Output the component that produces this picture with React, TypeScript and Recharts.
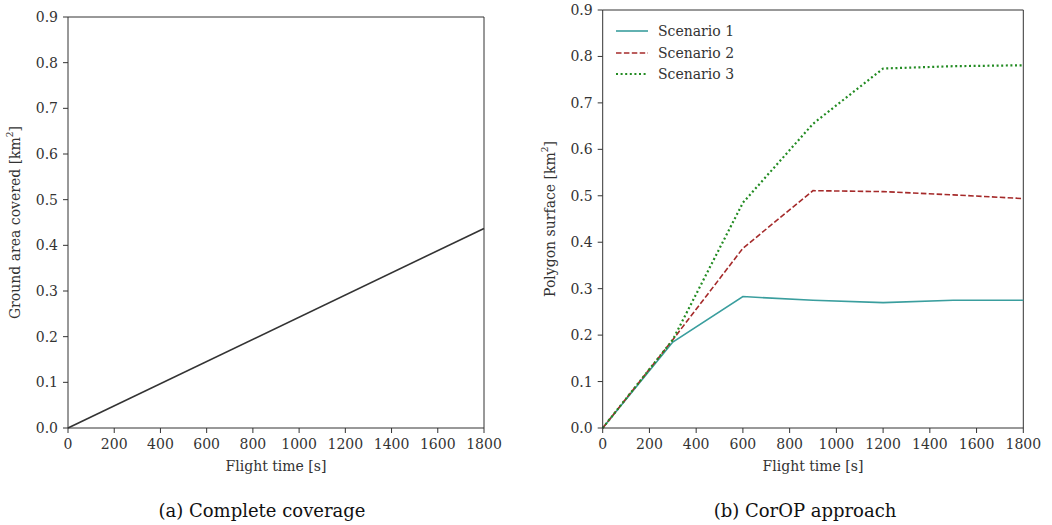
import { LineChart, Line, XAxis, YAxis, ReferenceLine, Legend } from "recharts";

const timeTicks = [0, 200, 400, 600, 800, 1000, 1200, 1400, 1600, 1800];
const areaTicks = [0, 0.1, 0.2, 0.3, 0.4, 0.5, 0.6, 0.7, 0.8, 0.9];

// (a) complete coverage
const coverageTime = [0, 1800];
const coverageArea = [0, 0.437];

// (b) CorOP approach
const scenarioTime = [0, 300, 600, 900, 1200, 1500, 1800];
const scenario1 = [0, 0.185, 0.283, 0.275, 0.27, 0.275, 0.275];
const scenario2 = [0, 0.19, 0.387, 0.511, 0.509, 0.502, 0.494];
const scenario3 = [0, 0.19, 0.485, 0.655, 0.774, 0.779, 0.781];
const scenarioNames = ["Scenario 1", "Scenario 2", "Scenario 3"];

const serif = "'DejaVu Serif', serif";
const ink = "#333";
const tickStyle = { fill: ink, fontSize: 14, fontFamily: serif };

const coverageData = coverageTime.map((t, i) => ({ t, area: coverageArea[i] }));
const scenarioData = scenarioTime.map((t, i) => ({
  t,
  s1: scenario1[i],
  s2: scenario2[i],
  s3: scenario3[i],
}));

const styles = [
  { key: "s1", color: "#3a9e9e", dash: undefined, width: 1.6 },
  { key: "s2", color: "#a52a2a", dash: "5.5 2.4", width: 1.6 },
  { key: "s3", color: "#228b22", dash: "2 2.6", width: 2.2 },
];

function yLabel(text: string) {
  return (props: any) => {
    const { viewBox } = props;
    const x = viewBox.x - 3;
    const y = viewBox.y + viewBox.height / 2;
    return (
      <text
        x={x}
        y={y}
        transform={`rotate(-90 ${x} ${y})`}
        textAnchor="middle"
        dominantBaseline="central"
        fill={ink}
        fontSize={14}
        fontFamily={serif}
      >
        {text} [km<tspan baselineShift="super" fontSize={9}>2</tspan>]
      </text>
    );
  };
}

function xLabel(props: any) {
  const { viewBox } = props;
  return (
    <text
      x={viewBox.x + viewBox.width / 2}
      y={viewBox.y + 38}
      textAnchor="middle"
      dominantBaseline="central"
      fill={ink}
      fontSize={14}
      fontFamily={serif}
    >
      Flight time [s]
    </text>
  );
}

function Axes({ label }: { label: string }) {
  return [
    <XAxis
      key="x"
      dataKey="t"
      type="number"
      domain={[0, 1800]}
      ticks={timeTicks}
      tick={tickStyle}
      tickSize={5}
      tickMargin={6}
      height={42}
      stroke={ink}
      interval={0}
      label={xLabel}
    />,
    <YAxis
      key="y"
      type="number"
      domain={[0, 0.9]}
      ticks={areaTicks}
      tickFormatter={(v: number) => v.toFixed(1)}
      tick={tickStyle}
      tickSize={5}
      tickMargin={5}
      width={50}
      stroke={ink}
      interval={0}
      label={yLabel(label)}
    />,
    <ReferenceLine key="top" y={0.9} stroke={ink} />,
    <ReferenceLine key="right" x={1800} stroke={ink} />,
  ];
}

function LegendBox(props: any) {
  const { payload } = props;
  return (
    <div style={{ fontFamily: serif, fontSize: 14, color: ink }}>
      {payload.map((p: any, i: number) => {
        const st = styles.find((s) => s.key === p.dataKey) ?? styles[i];
        return (
          <div key={i} style={{ display: "flex", alignItems: "center", height: 21.7 }}>
            <svg width={32} height={10} style={{ marginRight: 10 }}>
              <line
                x1={0}
                y1={5}
                x2={32}
                y2={5}
                stroke={st.color}
                strokeWidth={st.width}
                strokeDasharray={st.dash}
              />
            </svg>
            <span>{p.value}</span>
          </div>
        );
      })}
    </div>
  );
}

const caption = {
  position: "absolute" as const,
  top: 500,
  fontFamily: serif,
  fontSize: 18,
  color: "#111",
  transform: "translateX(-50%)",
  whiteSpace: "nowrap" as const,
};

export default function App() {
  return (
    <div style={{ position: "absolute", left: 0, top: 0, width: 1052, height: 525, background: "#fff" }}>
      <div style={{ position: "absolute", left: 0, top: 0 }}>
        <LineChart width={520} height={490} data={coverageData} margin={{ top: 17, right: 36, bottom: 20, left: 18 }}>
          {Axes({ label: "Ground area covered" })}
          <Line dataKey="area" stroke={ink} strokeWidth={1.6} dot={false} isAnimationActive={false} />
        </LineChart>
      </div>
      <div style={{ position: "absolute", left: 534, top: 0 }}>
        <LineChart width={518} height={490} data={scenarioData} margin={{ top: 10, right: 28.7, bottom: 20, left: 18.7 }}>
          {Axes({ label: "Polygon surface" })}
          {styles.map((s, i) => (
            <Line
              key={s.key}
              dataKey={s.key}
              name={scenarioNames[i]}
              stroke={s.color}
              strokeWidth={s.width}
              strokeDasharray={s.dash}
              dot={false}
              isAnimationActive={false}
            />
          ))}
          <Legend
            layout="horizontal"
            verticalAlign="middle"
            align="center"
            content={LegendBox}
            wrapperStyle={{ left: 82, top: 20, width: "auto" }}
          />
        </LineChart>
      </div>
      <div style={{ ...caption, left: 262 }}>(a) Complete coverage</div>
      <div style={{ ...caption, left: 805 }}>(b) CorOP approach</div>
    </div>
  );
}
